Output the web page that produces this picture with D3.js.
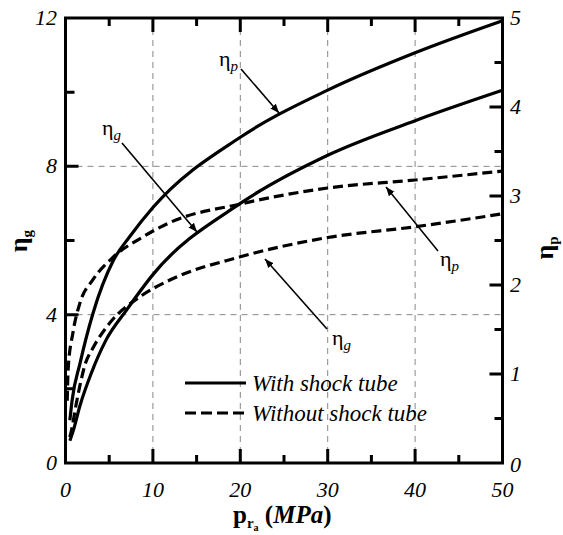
<!DOCTYPE html>
<html><head><meta charset="utf-8">
<script src="https://cdn.jsdelivr.net/npm/d3@7/dist/d3.min.js"></script>
<style>
html,body{margin:0;padding:0;background:#fff;}
svg{display:block;}
</style></head>
<body>
<svg id="chart" width="563" height="535"></svg>
<script>
// ---- data ----
const xTicks = [0, 10, 20, 30, 40, 50];
const leftTicks = [0, 4, 8, 12];
const rightTicks = [0, 1, 2, 3, 4, 5];
const xMajorTicks = [10, 20, 30, 40];
const xMinorTicks = [5, 15, 25, 35, 45];
const leftMajorTicks = [4, 8];
const leftMinorTicks = [2, 6, 10];
const rightMajorTicks = [1, 2, 3, 4];
const rightMinorTicks = [0.5, 1.5, 2.5, 3.5, 4.5];
const gridX = [10, 20, 30, 40];
const gridYLeft = [4, 8];

// eta_p with shock tube (right axis)
const etaPWith = [[0.5,0.48],[0.75,0.7],[1.66,1.12],[3.14,1.68],[5.5,2.28],[7.4,2.55],[10,2.87],[20,3.66],[30,4.19],[40,4.61],[50,4.97]];
// eta_g with shock tube (left axis)
const etaGWith = [[0.5,0.6],[0.9,0.88],[1.66,1.55],[3.0,2.45],[4.6,3.3],[7.0,4.13],[10,5.08],[20,7.0],[30,8.3],[40,9.23],[50,10.05]];
// eta_p without shock tube (right axis)
const etaPWithout = [[0.2,0.7],[0.3,1.05],[0.86,1.47],[1.66,1.8],[3.14,2.06],[5.42,2.31],[8.85,2.54],[11.9,2.7],[20,2.91],[30,3.09],[40,3.18],[50,3.28]];
// eta_g without shock tube (left axis)
const etaGWithout = [[0.5,0.7],[0.75,0.95],[1.1,1.43],[1.66,2.1],[2.23,2.65],[3.14,3.1],[5.08,3.78],[8.5,4.48],[12,4.94],[20,5.56],[30,6.08],[40,6.37],[50,6.72]];

const legendLabels = ["With shock tube", "Without shock tube"];

// ---- layout ----
const FONT = "'Times New Roman', 'Liberation Serif', 'DejaVu Serif', serif";
const svg = d3.select("#chart");
const L = 65.5, R = 502.5, T = 18, B = 463;
const x = d3.scaleLinear().domain([0,50]).range([L,R]);
const yL = d3.scaleLinear().domain([0,12]).range([B,T]);
const yR = d3.scaleLinear().domain([0,5]).range([B,T]);

function txt(sel){ return sel.style("font-family", FONT).attr("fill","#000"); }

// arrow marker
const defs = svg.append("defs");
defs.append("marker").attr("id","arr").attr("viewBox","0 0 10 10")
  .attr("refX",10).attr("refY",5).attr("markerWidth",9).attr("markerHeight",9)
  .attr("markerUnits","userSpaceOnUse").attr("orient","auto")
  .append("path").attr("d","M0,1 L10,5 L0,9 Z").attr("fill","#000");

// grid
gridX.forEach(d=>{
  svg.append("line").attr("x1",x(d)).attr("x2",x(d)).attr("y1",T).attr("y2",B)
    .attr("stroke","#888").attr("stroke-width",1).attr("stroke-dasharray","6,5");
});
gridYLeft.forEach(d=>{
  svg.append("line").attr("x1",L).attr("x2",R).attr("y1",yL(d)).attr("y2",yL(d))
    .attr("stroke","#888").attr("stroke-width",1).attr("stroke-dasharray","6,5");
});

// frame + inward ticks as one path
let fp = `M${L},${T}H${R}V${B}H${L}Z`;
xMajorTicks.forEach(v=>{ fp += `M${x(v)},${B}V${B-14}M${x(v)},${T}V${T+14}`; });
xMinorTicks.forEach(v=>{ fp += `M${x(v)},${B}V${B-8}M${x(v)},${T}V${T+8}`; });
leftMajorTicks.forEach(v=>{ fp += `M${L},${yL(v)}H${L+13}`; });
leftMinorTicks.forEach(v=>{ fp += `M${L},${yL(v)}H${L+9}`; });
rightMajorTicks.forEach(v=>{ fp += `M${R},${yR(v)}H${R-13}`; });
rightMinorTicks.forEach(v=>{ fp += `M${R},${yR(v)}H${R-8}`; });
svg.append("path").attr("d",fp).attr("fill","none").attr("stroke","#000").attr("stroke-width",3);

// tick labels
function label(px, py, t, anchor){
  txt(svg.append("text")).attr("x",px).attr("y",py).attr("text-anchor",anchor)
    .style("font-style","italic").style("font-size","22px").text(t);
}
xTicks.forEach(d=>label(x(d),497,d,"middle"));
leftTicks.forEach(d=>label(57,yL(d)+7,d,"end"));
rightTicks.forEach(d=>label(510,yR(d)+(d===0?9:7),d,"start"));

// curves
const lineL = d3.line().x(d=>x(d[0])).y(d=>yL(d[1])).curve(d3.curveMonotoneX);
const lineR = d3.line().x(d=>x(d[0])).y(d=>yR(d[1])).curve(d3.curveMonotoneX);
function curve(d, dash){
  const p = svg.append("path").attr("d",d).attr("fill","none").attr("stroke","#000").attr("stroke-width",3.2);
  if (dash) p.attr("stroke-dasharray","10,5");
}
curve(lineR(etaPWith), false);
curve(lineL(etaGWith), false);
curve(lineR(etaPWithout), true);
curve(lineL(etaGWithout), true);

// annotations
function etaLabel(px, py, sub){
  const t = txt(svg.append("text")).attr("x",px).attr("y",py).style("font-size","22px");
  t.append("tspan").text("η");
  t.append("tspan").attr("dy",5).style("font-size","15px").style("font-style","italic").text(sub);
}
function arrow(x1,y1,x2,y2){
  svg.append("line").attr("x1",x1).attr("y1",y1).attr("x2",x2).attr("y2",y2)
    .attr("stroke","#000").attr("stroke-width",1.6).attr("marker-end","url(#arr)");
}
arrow(241,69,279,113);
arrow(122,143,197,232);
arrow(438,251,386,187);
arrow(327,329,265,259);
etaLabel(219,66,"p");
etaLabel(102,135,"g");
etaLabel(440,266,"p");
etaLabel(332,345,"g");

// legend
svg.append("line").attr("x1",185).attr("x2",246).attr("y1",383).attr("y2",383).attr("stroke","#000").attr("stroke-width",3.2);
svg.append("line").attr("x1",185).attr("x2",246).attr("y1",413).attr("y2",413).attr("stroke","#000").attr("stroke-width",3.2).attr("stroke-dasharray","11,5");
legendLabels.forEach((d,i)=>{
  txt(svg.append("text")).attr("x",252).attr("y",391+i*30)
    .style("font-style","italic").style("font-size","23px").text(d);
});

// axis titles
const tL = txt(svg.append("text")).attr("transform","translate(27,241) rotate(-90)")
  .attr("text-anchor","middle").style("font-weight","bold").style("font-size","26px");
tL.append("tspan").text("η");
tL.append("tspan").attr("dy",5).style("font-size","15px").text("g");
const tR = txt(svg.append("text")).attr("transform","translate(553,248) rotate(-90)")
  .attr("text-anchor","middle").style("font-weight","bold").style("font-size","26px");
tR.append("tspan").text("η");
tR.append("tspan").attr("dy",5).style("font-size","15px").text("p");

const tB = txt(svg.append("text")).attr("x",233).attr("y",523)
  .style("font-weight","bold").style("font-size","25px");
tB.append("tspan").text("p");
tB.append("tspan").attr("dy",5).style("font-size","15px").text("r");
tB.append("tspan").attr("dy",3).style("font-size","10px").text("a");
tB.append("tspan").attr("dy",-8).text(" (");
tB.append("tspan").style("font-style","italic").text("MPa");
tB.append("tspan").text(")");
</script>
</body></html>
